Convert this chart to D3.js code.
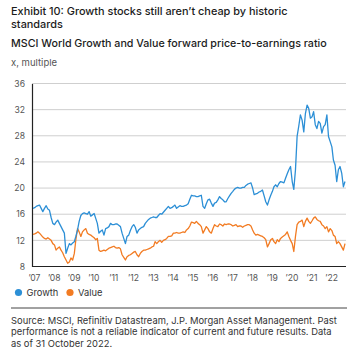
<!DOCTYPE html>
<html>
<head>
<meta charset="utf-8">
<script src="https://cdn.jsdelivr.net/npm/d3@7"></script>
<style>
  html, body { margin: 0; padding: 0; background: #fff; }
  svg { display: block; }
  text { font-family: Inter, "Noto Sans", sans-serif; }
</style>
</head>
<body>
<svg id="chart" width="358" height="361"></svg>
<script>
// ---- Data (monthly, Jan 2007 – Oct 2022) ----
const startMonth = "2007-01";
const growth = [
16.9,17.0,17.2,17.3,17.4,16.9,16.4,16.9,17.3,16.8,16.6,15.5,
14.6,14.4,14.8,15.1,14.6,14.1,13.6,13.1,10.0,10.8,11.5,11.3,
11.6,11.8,12.6,13.6,14.9,15.8,16.1,16.2,16.1,16.0,16.4,15.7,
15.9,16.1,15.4,14.6,13.1,13.4,13.6,12.8,13.8,13.9,14.1,14.6,
14.4,14.4,14.5,14.5,14.3,14.1,13.1,12.3,11.5,12.6,12.8,13.5,
14.1,14.4,14.0,13.1,13.6,13.8,14.0,14.1,14.6,14.9,15.2,15.4,
15.5,15.6,15.5,15.5,15.8,16.1,16.0,16.3,16.6,16.9,17.2,16.9,
17.0,17.2,17.4,16.9,17.1,17.3,17.2,17.2,17.3,17.4,17.6,18.3,
18.9,18.8,18.8,18.7,18.7,18.8,18.9,17.2,16.9,17.6,18.2,18.3,
17.7,17.2,17.7,17.8,18.2,18.7,18.4,18.2,17.9,17.9,18.4,18.8,
19.2,19.5,19.8,20.0,20.1,20.0,20.0,20.1,20.1,20.4,20.6,20.7,
20.8,20.0,19.0,19.1,19.2,19.4,19.5,19.7,18.8,17.9,17.4,18.2,
18.9,19.5,20.2,20.5,20.2,20.7,21.0,20.9,20.8,21.5,22.2,22.8,
23.3,21.0,19.8,22.8,27.9,29.5,31.2,30.4,28.6,31.4,32.7,32.2,
30.7,30.9,31.7,29.7,29.1,30.2,29.9,28.4,29.4,29.7,31.2,27.9,
27.1,26.3,24.3,23.5,21.0,22.8,23.3,22.3,20.2,21.0
];
const value = [
12.9,13.0,13.1,13.3,13.1,12.8,12.5,12.3,12.2,12.4,12.2,12.0,
11.5,11.3,10.5,10.8,11.0,10.5,10.1,9.5,9.0,8.5,8.7,9.3,
9.0,10.0,12.1,13.8,13.3,12.6,13.3,13.6,13.8,13.1,12.9,12.8,
12.6,12.4,12.1,12.3,10.5,10.3,10.4,10.5,10.4,10.6,10.8,10.9,
11.0,11.1,10.9,10.8,10.9,10.7,9.8,9.4,9.0,9.5,9.7,9.8,
10.0,10.2,10.3,9.8,9.5,10.0,10.3,10.5,10.5,10.6,10.7,10.8,
11.0,11.1,11.8,11.5,11.8,12.0,11.7,12.0,12.1,12.3,12.6,12.6,
12.7,13.1,13.1,13.2,13.1,13.1,13.2,13.3,13.2,13.6,13.8,14.2,
14.8,14.7,14.6,14.9,14.6,14.4,14.1,13.1,13.6,14.1,13.8,13.3,
13.1,13.8,14.4,14.2,14.1,14.5,14.4,14.2,14.5,14.4,14.5,14.5,
14.4,14.2,14.3,14.4,14.1,14.2,14.2,14.0,14.2,14.3,14.4,14.4,
14.2,13.6,13.1,12.8,12.9,12.8,12.7,12.6,12.4,12.1,11.0,11.5,
12.1,12.3,11.8,11.5,12.1,11.8,12.3,12.5,12.7,12.9,13.3,12.6,
12.0,11.5,10.3,12.6,14.4,14.8,14.9,15.1,14.1,14.9,15.4,14.9,
14.6,15.0,15.4,15.6,15.2,15.0,14.9,14.4,14.2,13.8,14.1,13.3,
13.8,13.5,12.8,12.6,11.5,11.8,11.5,11.0,10.5,11.5
];
const yTicks = [8, 12, 16, 20, 24, 28, 32, 36];
const xTickYears = [2007,2008,2009,2010,2011,2012,2013,2014,2015,2016,2017,2018,2019,2020,2021,2022];
const seriesNames = ["Growth", "Value"];
const seriesColors = ["#2c8fd6", "#f27b22"];

const titleLines = ["Exhibit 10: Growth stocks still aren\u2019t cheap by historic", "standards"];
const subtitle = "MSCI World Growth and Value forward price-to-earnings ratio";
const unitLabel = "x, multiple";
const sourceLines = [
  "Source: MSCI, Refinitiv Datastream, J.P. Morgan Asset Management. Past",
  "performance is not a reliable indicator of current and future results. Data",
  "as of 31 October 2022."
];

// ---- Build ----
const parse = d3.timeParse("%Y-%m");
const t0 = parse(startMonth);
const dates = growth.map((_, i) => d3.timeMonth.offset(t0, i));

const svg = d3.select("#chart");
const m = { left: 32, right: 346, top: 83.5, bottom: 266.5 };

const x = d3.scaleTime()
  .domain([new Date(2007, 0, 1), dates[dates.length - 1]])
  .range([33, 345]);
const y = d3.scaleLinear().domain([8, 36]).range([m.bottom, m.top]);

// titles
const tt = svg.append("g").attr("fill", "#1b1b1b");
titleLines.forEach((s, i) => {
  tt.append("text").attr("x", 11).attr("y", 15 + i * 13.3)
    .attr("font-size", 10.9).attr("font-weight", 500).text(s);
});
tt.append("text").attr("x", 11).attr("y", 46.5)
  .attr("font-size", 10.7).attr("font-weight", 500).text(subtitle);
svg.append("text").attr("x", 11).attr("y", 65.5)
  .attr("font-size", 9.5).attr("fill", "#555").text(unitLabel);

// grid
svg.append("g").selectAll("line").data(yTicks.filter(d => d > 8)).join("line")
  .attr("x1", m.left).attr("x2", m.right)
  .attr("y1", d => y(d)).attr("y2", d => y(d))
  .attr("stroke", "#cfcfcf").attr("stroke-width", 1);

// y axis
const yAxis = svg.append("g").attr("transform", `translate(${m.left},0)`)
  .call(d3.axisLeft(y).tickValues(yTicks).tickSize(0).tickPadding(7));
yAxis.select(".domain").attr("stroke", "#222").attr("stroke-width", 1.2);
yAxis.selectAll("text").attr("font-size", 8.6).attr("fill", "#555")
  .style("font-family", "Inter, sans-serif");

// x axis
const xAxis = svg.append("g").attr("transform", `translate(0,${m.bottom})`)
  .call(d3.axisBottom(x).tickValues(xTickYears.map(yr => new Date(yr, 0, 1)))
    .tickFormat(d => "\u2019" + d3.timeFormat("%y")(d)).tickSize(0).tickPadding(8));
xAxis.select(".domain").attr("d", `M${m.left},0H${m.right}`).attr("stroke", "#222").attr("stroke-width", 1.2);
xAxis.selectAll("text").attr("font-size", 8.6).attr("fill", "#555")
  .attr("dx", 1)
  .style("font-family", "Inter, sans-serif");

// lines
const line = d3.line().x((d, i) => x(dates[i])).y(d => y(d));
[value, growth].forEach((s, k) => {
  const idx = k === 0 ? 1 : 0;
  svg.append("path").datum(s).attr("d", line)
    .attr("fill", "none").attr("stroke", seriesColors[idx])
    .attr("stroke-width", 1.3).attr("stroke-linejoin", "round");
});

// legend
const legX = [18.5, 70];
seriesNames.forEach((n, i) => {
  svg.append("circle").attr("cx", legX[i]).attr("cy", 292.5).attr("r", 3.6).attr("fill", seriesColors[i]);
  svg.append("text").attr("x", legX[i] + 8).attr("y", 296).attr("font-size", 9.3)
    .attr("fill", "#333").text(n);
});

// separator
svg.append("line").attr("x1", 11).attr("x2", 347).attr("y1", 308).attr("y2", 308)
  .attr("stroke", "#444").attr("stroke-width", 1);

// source
sourceLines.forEach((s, i) => {
  svg.append("text").attr("x", 11).attr("y", 323.5 + i * 11.6)
    .attr("font-size", 9.4).attr("fill", "#333").text(s);
});
</script>
</body>
</html>
